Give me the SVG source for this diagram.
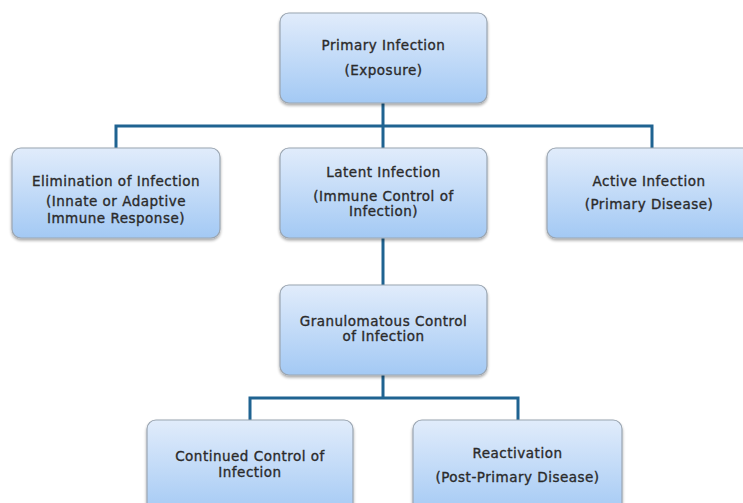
<svg xmlns="http://www.w3.org/2000/svg" width="743" height="503" viewBox="0 0 743 503">
<defs>
<linearGradient id="g" x1="0" y1="0" x2="0" y2="1">
<stop offset="0" stop-color="#e1ecfb"/>
<stop offset="1" stop-color="#a3c9f4"/>
</linearGradient>
<filter id="sh" x="-10%" y="-10%" width="120%" height="130%">
<feGaussianBlur in="SourceAlpha" stdDeviation="1.5"/>
<feOffset dx="0" dy="2" result="b"/>
<feComponentTransfer><feFuncA type="linear" slope="0.35"/></feComponentTransfer>
<feMerge><feMergeNode/><feMergeNode in="SourceGraphic"/></feMerge>
</filter>
</defs>
<style>
.box{fill:url(#g);stroke:#9aa5b1;stroke-width:1.2;filter:url(#sh)}
.t{font-family:"DejaVu Sans",Verdana,sans-serif;font-size:13.5px;letter-spacing:0.5px;fill:#2b2b2b;stroke:#2b2b2b;stroke-width:0.35;text-anchor:middle}
.c{fill:none;stroke:#1f6391;stroke-width:3}
</style>
<rect width="743" height="503" fill="#ffffff"/>
<g id="connectors">
<path class="c" d="M383 103V126M116 148V126H652V148M383 126V148"/>
<path class="c" d="M383 238V285"/>
<path class="c" d="M383 375V398M250 420V398H518V420"/>
</g>
<g id="primary">
<rect class="box" x="280" y="13" width="207" height="90" rx="9"/>
<text class="t" x="383.5" y="50">Primary Infection</text>
<text class="t" x="383.5" y="75">(Exposure)</text>
</g>
<g id="elimination">
<rect class="box" x="12" y="148" width="208" height="90" rx="9"/>
<text class="t" x="116" y="186">Elimination of Infection</text>
<text class="t" x="116" y="206">(Innate or Adaptive</text>
<text class="t" x="116" y="223">Immune Response)</text>
</g>
<g id="latent">
<rect class="box" x="280" y="148" width="207" height="90" rx="9"/>
<text class="t" x="383.5" y="177">Latent Infection</text>
<text class="t" x="383.5" y="201">(Immune Control of</text>
<text class="t" x="383.5" y="216">Infection)</text>
</g>
<g id="active">
<rect class="box" x="547" y="148" width="210" height="90" rx="9"/>
<text class="t" x="649" y="186">Active Infection</text>
<text class="t" x="649" y="209">(Primary Disease)</text>
</g>
<g id="granulomatous">
<rect class="box" x="280" y="285" width="207" height="90" rx="9"/>
<text class="t" x="383.5" y="326">Granulomatous Control</text>
<text class="t" x="383.5" y="341">of Infection</text>
</g>
<g id="continued">
<rect class="box" x="147" y="420" width="206" height="95" rx="9"/>
<text class="t" x="250" y="461">Continued Control of</text>
<text class="t" x="250" y="477">Infection</text>
</g>
<g id="reactivation">
<rect class="box" x="413" y="420" width="209" height="95" rx="9"/>
<text class="t" x="517.5" y="458">Reactivation</text>
<text class="t" x="517.5" y="482">(Post-Primary Disease)</text>
</g>
</svg>
